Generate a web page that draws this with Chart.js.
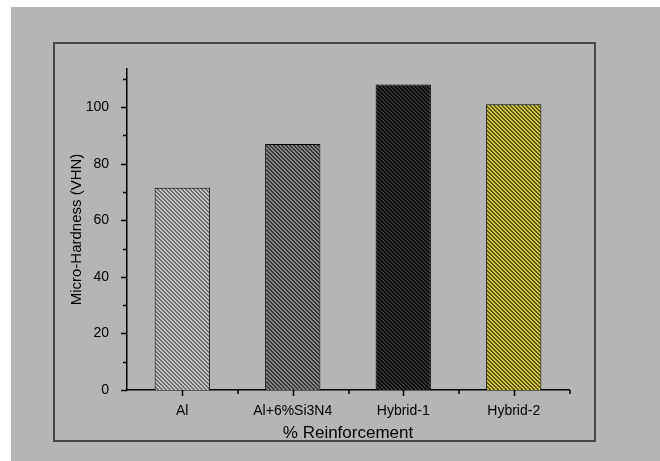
<!DOCTYPE html>
<html>
<head>
<meta charset="utf-8">
<script src="https://cdn.jsdelivr.net/npm/chart.js@4/dist/chart.umd.min.js"></script>
<style>
  html, body { margin: 0; padding: 0; background: #ffffff; }
  #wrap { width: 660px; height: 461px; }
</style>
</head>
<body>
<div id="wrap"><canvas id="c" width="660" height="461"></canvas></div>
<script>
// Micro-hardness for each reinforcement condition
const categories = ['Al', 'Al+6%Si3N4', 'Hybrid-1', 'Hybrid-2'];
const hardness = [71.5, 87, 108, 101];
const yMax = 113.5;
const majorStep = 20;
const minorStep = 10;

// Hatch colours per bar: [fill, stripe]
const hatchColours = [
  ['#c4c4c4', '#6e6e6e'],
  ['#868686', '#383838'],
  ['#353535', '#080808'],
  ['#cfc535', '#5c560e']
];

function hatch(bg, fg) {
  const n = 4;
  const c = document.createElement('canvas');
  c.width = n; c.height = n;
  const g = c.getContext('2d');
  g.fillStyle = bg;
  g.fillRect(0, 0, n, n);
  g.fillStyle = fg;
  for (let y = 0; y < n; y++) {
    for (let x = 0; x < n; x++) {
      if (((x - y) % n + n) % n < 2) g.fillRect(x, y, 1, 1);
    }
  }
  return g.createPattern(c, 'repeat');
}

const fills = hatchColours.map(p => hatch(p[0], p[1]));

const FONT = '"Liberation Sans", Arial, Helvetica, sans-serif';

// Page backdrop and outer frame
const backdrop = {
  id: 'backdrop',
  beforeDraw(chart) {
    const ctx = chart.ctx;
    ctx.save();
    ctx.fillStyle = '#ffffff';
    ctx.fillRect(0, 0, chart.width, chart.height);
    ctx.fillStyle = '#b5b5b5';
    ctx.fillRect(11, 7, chart.width - 11, chart.height - 7);
    ctx.strokeStyle = '#474747';
    ctx.lineWidth = 2;
    ctx.strokeRect(54, 43, 541, 398);
    ctx.restore();
  }
};

// Major and minor tick marks on both axes
const tickMarks = {
  id: 'tickMarks',
  afterDatasetsDraw(chart) {
    const ctx = chart.ctx;
    const xs = chart.scales.x, ys = chart.scales.y;
    const area = chart.chartArea;
    ctx.save();
    ctx.strokeStyle = '#000';
    ctx.lineWidth = 1.5;
    ctx.beginPath();
    for (let v = 0; v <= yMax; v += minorStep) {
      const py = Math.round(ys.getPixelForValue(v)) + 0.5;
      const len = (v % majorStep === 0) ? 6 : 4;
      ctx.moveTo(area.left - len, py);
      ctx.lineTo(area.left, py);
    }
    const half = (xs.getPixelForValue(1) - xs.getPixelForValue(0)) / 2;
    categories.forEach((_, i) => {
      const px = Math.round(xs.getPixelForValue(i)) + 0.5;
      ctx.moveTo(px, area.bottom);
      ctx.lineTo(px, area.bottom + 6);
      const bx = Math.round(px + half);
      ctx.moveTo(bx, area.bottom);
      ctx.lineTo(bx, area.bottom + 4);
    });
    ctx.stroke();
    ctx.restore();
  }
};

new Chart(document.getElementById('c'), {
  type: 'bar',
  data: {
    labels: categories,
    datasets: [{
      data: hardness,
      backgroundColor: fills,
      borderColor: '#000',
      borderWidth: 1,
      categoryPercentage: 1,
      barPercentage: 0.5
    }]
  },
  plugins: [backdrop, tickMarks],
  options: {
    responsive: false,
    animation: false,
    devicePixelRatio: 1,
    layout: { padding: { left: 60, right: 91, top: 69, bottom: 17 } },
    plugins: { legend: { display: false }, tooltip: { enabled: false } },
    scales: {
      x: {
        grid: { display: false },
        border: { display: true, color: '#000', width: 1.5 },
        ticks: { color: '#000', font: { family: FONT, size: 14 }, padding: 5, maxRotation: 0 },
        title: {
          display: true, text: '% Reinforcement', color: '#000',
          font: { family: FONT, size: 17 }, padding: { top: 0, bottom: 0 }
        },
        afterFit(s) { s.height = 54; }
      },
      y: {
        min: 0, max: yMax,
        grid: { display: false },
        border: { display: true, color: '#000', width: 1.5 },
        ticks: {
          stepSize: majorStep, includeBounds: false, color: '#000',
          font: { family: FONT, size: 14 }, padding: 10
        },
        title: {
          display: true, text: 'Micro-Hardness (VHN)', color: '#000',
          font: { family: FONT, size: 15 }, padding: { top: 8, bottom: 0 }
        },
        afterFit(s) { s.width = 67; }
      }
    }
  }
});
</script>
</body>
</html>
